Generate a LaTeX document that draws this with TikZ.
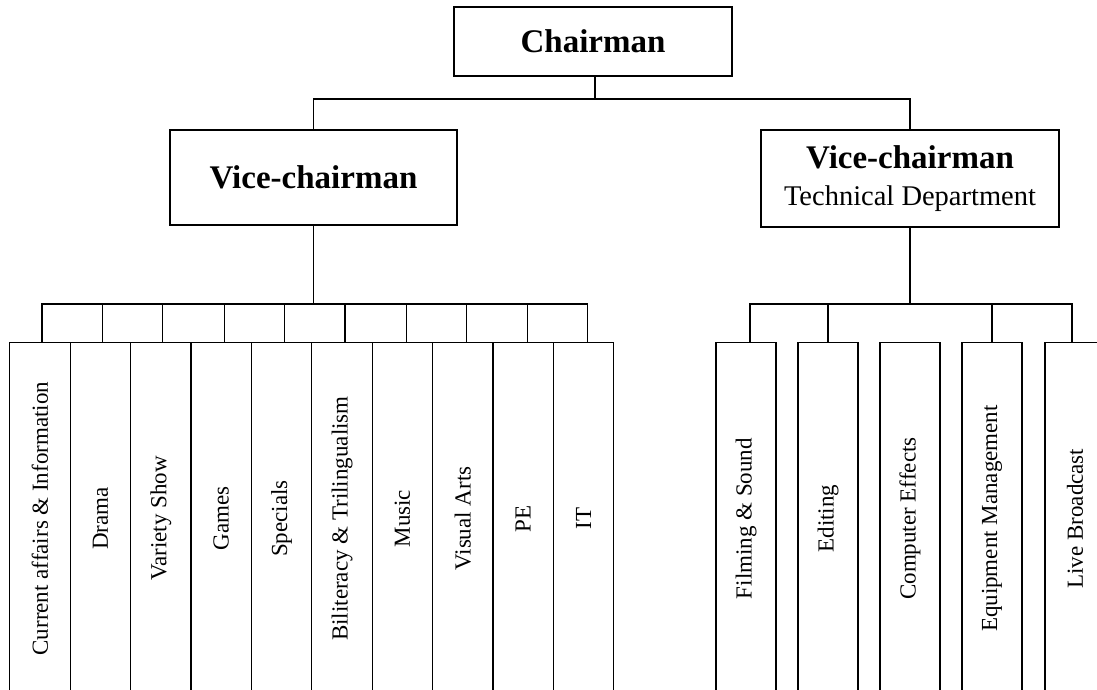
\documentclass[tikz,border=0pt]{standalone}
\usepackage{fontspec}
\setmainfont{Liberation Serif}
\usetikzlibrary{calc}
\begin{document}
\begin{tikzpicture}[x=1pt,y=-1pt,
  box/.style={draw,line width=1.2pt,inner sep=0pt,align=center},
  headbox/.style={box,font=\bfseries\fontsize{33}{38}\selectfont},
  unit/.style={box,anchor=north,minimum height=352pt,font=\fontsize{23}{26}\selectfont},
  lunit/.style={unit,minimum width=60.4pt},
  runit/.style={unit,minimum width=60pt},
  conn/.style={line width=1.2pt}]
\useasboundingbox (0,0) rectangle (1097,690);
\clip (0,0) rectangle (1097,690);
% heads
\node[headbox,minimum width=278pt,minimum height=69pt] (ch) at (593,41.5) {Chairman};
\node[headbox,minimum width=287pt,minimum height=95pt] (vl) at (313.5,177.5) {Vice-chairman};
\node[box,minimum width=298pt,minimum height=97pt,font=\fontsize{28.5}{37}\selectfont] (vr) at (910,178.5)
  {{\bfseries\fontsize{33}{37}\selectfont Vice-chairman}\\Technical Department};
% left units
\node[lunit] (l1) at (40,342) {\rotatebox{90}{Current affairs \& Information}};
\node[lunit] (l2) at (100.4,342) {\rotatebox{90}{Drama}};
\node[lunit] (l3) at (160.8,342) {\rotatebox{90}{Variety Show}};
\node[lunit] (l4) at (221.2,342) {\rotatebox{90}{Games}};
\node[lunit] (l5) at (281.6,342) {\rotatebox{90}{Specials}};
\node[lunit] (l6) at (342,342) {\rotatebox{90}{Biliteracy \& Trilingualism}};
\node[lunit] (l7) at (402.4,342) {\rotatebox{90}{Music}};
\node[lunit] (l8) at (462.8,342) {\rotatebox{90}{Visual Arts}};
\node[lunit] (l9) at (523.2,342) {\rotatebox{90}{PE}};
\node[lunit] (l10) at (583.6,342) {\rotatebox{90}{IT}};
% right units
\node[runit] (r1) at (746,342) {\rotatebox{90}{Filming \& Sound}};
\node[runit] (r2) at (828,342) {\rotatebox{90}{Editing}};
\node[runit] (r3) at (910,342) {\rotatebox{90}{Computer Effects}};
\node[runit] (r4) at (992,342) {\rotatebox{90}{Equipment Management}};
\node[runit] (r5) at (1075,342) {\rotatebox{90}{Live Broadcast}};
% bus coordinates
\coordinate (topbus) at (595,99);
\coordinate (lbus) at (313.5,304);
\coordinate (rbus) at (910,304);
% top connectors
\draw[conn] (ch.south -| topbus) -- (topbus);
\draw[conn] (vl.north) |- (topbus) -| (vr.north);
% left connectors
\draw[conn] (vl.south) -- (lbus);
\draw[conn] ($(l1.north)+(2,0)$) |- (lbus) -| ($(l10.north)+(4,0)$);
\foreach \n/\dx in {2/2,3/2,4/3,5/3,6/3,7/4,8/4,9/4}{
  \draw[conn] ($(l\n.north)+(\dx,0)$) -- ($(l\n.north)+(\dx,-38)$);
}
% right connectors
\draw[conn] (vr.south) -- (rbus);
\draw[conn] ($(r1.north)+(4,0)$) |- (rbus) -| ($(r5.north)+(-3,0)$);
\draw[conn] (r2.north) -- (r2.north |- rbus);
\draw[conn] (r4.north) -- (r4.north |- rbus);
\end{tikzpicture}
\end{document}
